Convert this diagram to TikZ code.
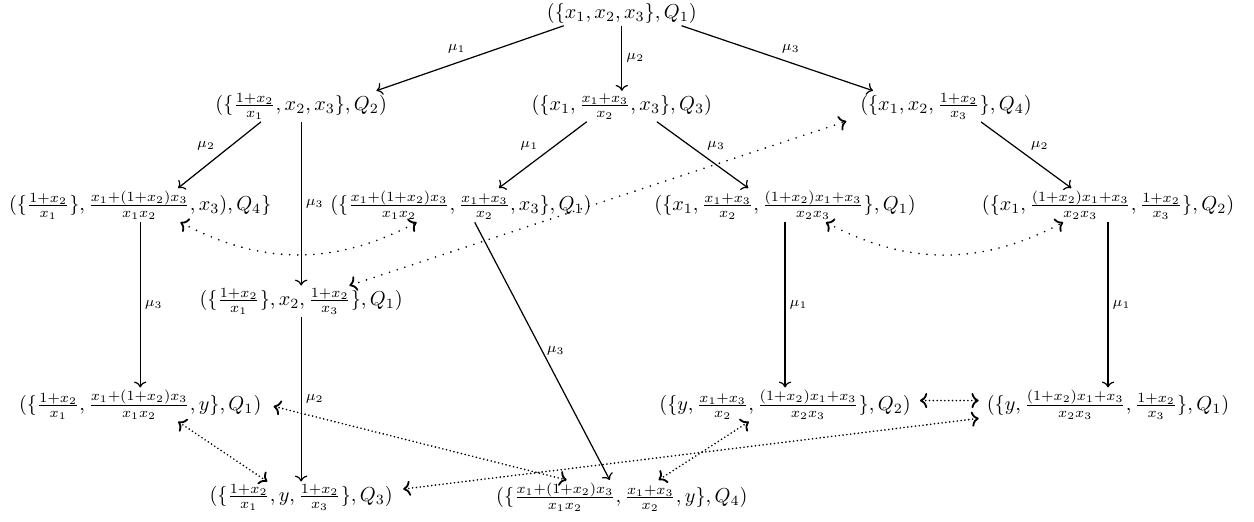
\documentclass[tikz,border=0pt]{standalone}
\usepackage{amsmath, amssymb}
\usepackage{tikz}
\usetikzlibrary{arrows.meta, positioning}

\begin{document}
\begin{tikzpicture}[scale=1.0,
    seed/.style={inner sep=1pt},
    mut/.style={->, line width=0.6pt},
    lab/.style={font=\scriptsize, inner sep=2pt},
    swp/.style={<->, line width=0.9pt, line cap=round, dash pattern=on 0pt off 4pt},
    swpd/.style={<->, line width=0.9pt, line cap=round, dash pattern=on 0pt off 1.9pt}]
  \useasboundingbox (0,0) rectangle (21.82,9.07);
  % seeds, row by row
  \node[seed] (top) at (10.82,8.84) {$(\{x_1,x_2,x_3\},Q_1)$};
  \node[seed] (q2) at (5.24,7.22) {$(\{\frac{1+x_2}{x_1},x_2,x_3\},Q_2)$};
  \node[seed] (q3) at (10.82,7.22) {$(\{x_1,\frac{x_1+x_3}{x_2},x_3\},Q_3)$};
  \node[seed] (q4) at (16.46,7.22) {$(\{x_1,x_2,\frac{1+x_2}{x_3}\},Q_4)$};
  \node[seed] (a) at (2.44,5.50) {$(\{\frac{1+x_2}{x_1}\},\frac{x_1+(1+x_2)x_3}{x_1x_2},x_3),Q_4\}$};
  \node[seed] (b) at (8.02,5.50) {$(\{\frac{x_1+(1+x_2)x_3}{x_1x_2},\frac{x_1+x_3}{x_2},x_3\},Q_1)$};
  \node[seed] (c) at (13.66,5.50) {$(\{x_1,\frac{x_1+x_3}{x_2},\frac{(1+x_2)x_1+x_3}{x_2x_3}\},Q_1)$};
  \node[seed] (d) at (19.28,5.50) {$(\{x_1,\frac{(1+x_2)x_1+x_3}{x_2x_3},\frac{1+x_2}{x_3}\},Q_2)$};
  \node[seed] (e) at (5.24,3.83) {$(\{\frac{1+x_2}{x_1}\},x_2,\frac{1+x_2}{x_3}\},Q_1)$};
  \node[seed] (f) at (2.44,2.03) {$(\{\frac{1+x_2}{x_1},\frac{x_1+(1+x_2)x_3}{x_1x_2},y\},Q_1)$};
  \node[seed] (g) at (13.66,2.03) {$(\{y,\frac{x_1+x_3}{x_2},\frac{(1+x_2)x_1+x_3}{x_2x_3}\},Q_2)$};
  \node[seed] (h) at (19.28,2.03) {$(\{y,\frac{(1+x_2)x_1+x_3}{x_2x_3},\frac{1+x_2}{x_3}\},Q_1)$};
  \node[seed] (i) at (5.24,0.42) {$(\{\frac{1+x_2}{x_1},y,\frac{1+x_2}{x_3}\},Q_3)$};
  \node[seed] (j) at (10.82,0.42) {$(\{\frac{x_1+(1+x_2)x_3}{x_1x_2},\frac{x_1+x_3}{x_2},y\},Q_4)$};

  % mutations
  \foreach \s/\t/\k in {top/q3/2, q2/e/3, a/f/3, c/g/1, d/h/1, e/i/2}
    \draw[mut] (\s) -- node[lab, right] {$\mu_\k$} (\t);
  \draw[mut] ([xshift=-1.01cm]top.south) -- node[lab, above left] {$\mu_1$} ([xshift=1.31cm]q2.north);
  \draw[mut] ([xshift=1.04cm]top.south) -- node[lab, above right] {$\mu_3$} ([xshift=-1.27cm]q4.north);
  \draw[mut] ([xshift=-0.70cm]q2.south) -- node[lab, above left] {$\mu_2$} ([xshift=0.66cm]a.north);
  \draw[mut] ([xshift=-0.61cm]q3.south) -- node[lab, above left] {$\mu_1$} ([xshift=0.66cm]b.north);
  \draw[mut] ([xshift=0.61cm]q3.south) -- node[lab, above right] {$\mu_3$} ([xshift=-0.64cm]c.north);
  \draw[mut] ([xshift=0.61cm]q4.south) -- node[lab, above right] {$\mu_2$} ([xshift=-0.64cm]d.north);
  \draw[mut] ([xshift=0.24cm]b.south) -- node[lab, right] {$\mu_3$} ([xshift=-0.21cm]j.north);

  % swaps
  \draw[swp] ([xshift=0.70cm]a.south) to[bend right=28] ([xshift=-0.77cm]b.south);
  \draw[swp] ([xshift=0.71cm]c.south) to[bend right=28] ([xshift=-0.78cm]d.south);
  \draw[swp] ([xshift=0.84cm]e.north) -- ([shift={(-0.20,-0.26)}]q4.west);
  \draw[swpd] ([xshift=0.66cm]f.south) -- ([xshift=-0.59cm]i.north);
  \draw[swpd] ([shift={(0.17,-0.03)}]f.east) -- ([xshift=-0.96cm]j.north);
  \draw[swpd] ([xshift=-0.63cm]g.south) -- ([xshift=0.64cm]j.north);
  \draw[swpd] ([shift={(0.12,0.07)}]g.east) -- ([shift={(-0.10,0.07)}]h.west);
  \draw[swpd] ([shift={(0.14,0.14)}]i.east) -- ([shift={(-0.10,-0.24)}]h.west);
\end{tikzpicture}
\end{document}
